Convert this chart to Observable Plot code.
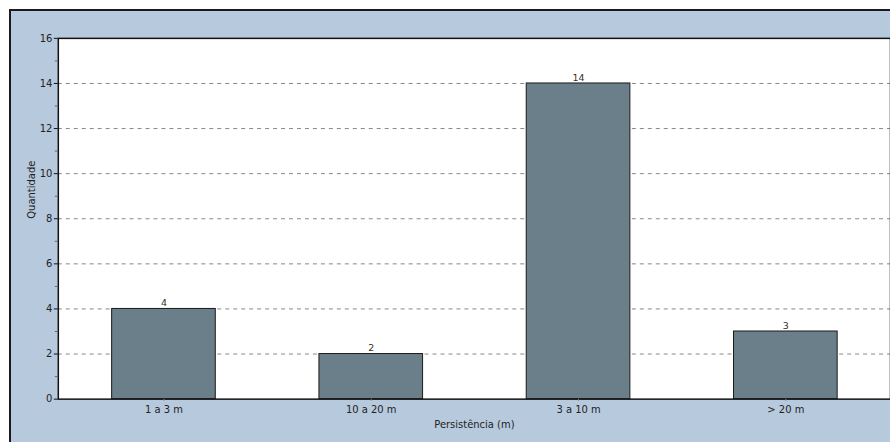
<!DOCTYPE html>
<html>
<head>
<meta charset="utf-8">
<script src="https://cdn.jsdelivr.net/npm/d3@7"></script>
<script src="https://cdn.jsdelivr.net/npm/@observablehq/plot@0.6"></script>
<style>
  html, body { margin: 0; padding: 0; overflow: hidden; background: #fff; width: 890px; height: 442px; }
  #panel { position: absolute; left: 9px; top: 9px; width: 920px; height: 500px; background: #b7c9dd; border: 2px solid #1a1a1a; box-sizing: border-box; }
  #chart { position: absolute; left: 0; top: 0; }
</style>
</head>
<body>
<div id="panel"></div>
<div id="chart"></div>
<script>
const categories = ["1 a 3 m", "10 a 20 m", "3 a 10 m", "> 20 m"];
const values = [4, 2, 14, 3];
const majorTicks = [0, 2, 4, 6, 8, 10, 12, 14, 16];
const minorTicks = [1, 3, 5, 7, 9, 11, 13, 15];
const gridTicks = [2, 4, 6, 8, 10, 12, 14];
const xLabel = "Persistência (m)";
const yLabel = "Quantidade";

const data = categories.map((c, i) => ({category: c, value: values[i]}));
const font = "DejaVu Sans, Verdana, sans-serif";

const plot = Plot.plot({
  width: 893,
  height: 442,
  marginLeft: 58,
  marginRight: 0,
  marginTop: 38,
  marginBottom: 42,
  style: {background: "transparent", fontFamily: font, fontSize: "10px", color: "#222"},
  x: {domain: categories, paddingInner: 0.5, paddingOuter: 0.25, align: 0.5},
  y: {domain: [0, 16]},
  marks: [
    Plot.frame({fill: "white", stroke: null}),
    Plot.gridY(gridTicks, {stroke: "#888", strokeOpacity: 1, strokeDasharray: "4,4", strokeWidth: 1}),
    Plot.barY(data, {x: "category", y: "value", fill: "#6a7f89", stroke: "#1a1a1a", strokeWidth: 1}),
    Plot.text(data, {x: "category", y: "value", text: d => String(d.value), dy: -6, fill: "#3a3020", fontSize: 9.5}),
    Plot.frame({stroke: "#111", strokeWidth: 1.5}),
    Plot.axisY(majorTicks, {tickSize: 4, tickPadding: 2, stroke: "#111", fill: "#222", fontSize: 10, label: null}),
    Plot.axisY(minorTicks, {tickSize: 3, tickPadding: 0, stroke: "#666", text: null, label: null}),
    Plot.axisX({tickSize: 2, tickPadding: 5, stroke: "#777", fill: "#222", fontSize: 10, label: null}),
    Plot.text([xLabel], {frameAnchor: "bottom", dy: 29, fill: "#222", fontSize: 10}),
    Plot.text([yLabel], {frameAnchor: "left", dx: -27, rotate: -90, fill: "#222", fontSize: 10})
  ]
});
document.getElementById("chart").appendChild(plot);
</script>
</body>
</html>
